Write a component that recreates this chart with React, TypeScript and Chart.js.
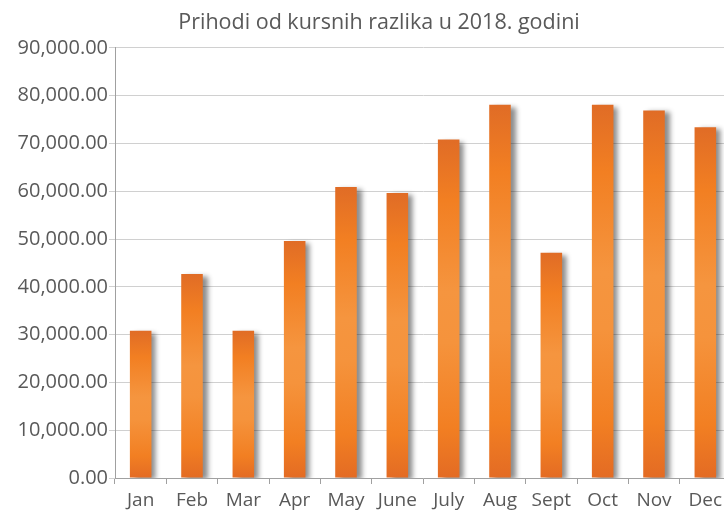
import React, { useEffect, useRef } from 'react';
import { Chart, registerables } from 'chart.js';

Chart.register(...registerables);

const chartTitle = 'Prihodi od kursnih razlika u 2018. godini';
const categories = ['Jan', 'Feb', 'Mar', 'Apr', 'May', 'June', 'July', 'Aug', 'Sept', 'Oct', 'Nov', 'Dec'];
const values = [30800, 42700, 30800, 49600, 60900, 59600, 70800, 78100, 47100, 78100, 76900, 73400];
const yMin = 0;
const yMax = 90000;
const yStep = 10000;

const FONT = "'Open Sans', sans-serif";
const TEXT = '#595959';

const shadowPlugin = {
  id: 'barShadow',
  beforeDatasetsDraw(chart: any) {
    const c = chart.ctx;
    c.save();
    c.shadowColor = 'rgba(0,0,0,0.45)';
    c.shadowBlur = 5;
    c.shadowOffsetX = 5;
    c.shadowOffsetY = 2;
  },
  afterDatasetsDraw(chart: any) {
    chart.ctx.restore();
  },
};

export default function App() {
  const ref = useRef<HTMLCanvasElement | null>(null);

  useEffect(() => {
    if (!ref.current) return;
    const chart = new Chart(ref.current, {
      type: 'bar',
      data: {
        labels: categories,
        datasets: [
          {
            data: values,
            borderWidth: 0,
            barPercentage: 0.42,
            categoryPercentage: 1,
            yAxisID: 'y',
            backgroundColor: (ctx: any) => {
              const ch = ctx.chart;
              if (!ch.chartArea || ctx.type !== 'data' || !ch.scales.y) return '#f28227';
              const y = ch.scales.y;
              const top = y.getPixelForValue(ctx.raw as number);
              const bottom = y.getPixelForValue(0);
              if (!isFinite(top) || !isFinite(bottom) || bottom - top < 1) return '#f28227';
              const g = ch.ctx.createLinearGradient(0, top, 0, bottom);
              g.addColorStop(0, '#e06c26');
              g.addColorStop(0.18, '#f27f22');
              g.addColorStop(0.45, '#f5953f');
              g.addColorStop(0.6, '#f5933c');
              g.addColorStop(0.85, '#f27f22');
              g.addColorStop(1, '#e36b24');
              return g;
            },
          },
        ],
      },
      options: {
        responsive: false,
        animation: false,
        layout: { padding: { left: 0, right: 0, top: 0, bottom: 0 } },
        plugins: {
          legend: { display: false },
          tooltip: { enabled: false },
          title: {
            display: true,
            text: chartTitle,
            color: TEXT,
            font: { family: FONT, size: 21.5, weight: 'normal', lineHeight: 1.2 },
            padding: { top: 10, bottom: 12 },
          },
        },
        scales: {
          x: {
            grid: {
              display: true,
              drawOnChartArea: false,
              drawTicks: true,
              tickLength: 6,
              color: '#a0a0a0',
              offset: true,
            },
            border: { display: true, color: '#a0a0a0', width: 1 },
            ticks: {
              color: TEXT,
              font: { family: FONT, size: 19 },
              padding: 5,
              maxRotation: 0,
              autoSkip: false,
            },
            afterFit: (s: any) => {
              s.height = 34;
            },
          },
          y: {
            min: yMin,
            max: yMax,
            grid: {
              color: '#d0d0d0',
              drawTicks: true,
              tickLength: 6,
              lineWidth: 1,
            },
            border: { display: true, color: '#a0a0a0', width: 1 },
            ticks: {
              stepSize: yStep,
              color: TEXT,
              font: { family: FONT, size: 20 },
              padding: 1,
              callback: (v: any) =>
                Number(v).toLocaleString('en-US', { minimumFractionDigits: 2, maximumFractionDigits: 2 }),
            },
            afterFit: (s: any) => {
              s.width = 115;
            },
          },
          spacer: {
            type: 'linear',
            position: 'right',
            display: true,
            min: yMin,
            max: yMax,
            grid: { display: false, drawOnChartArea: false, drawTicks: false },
            border: { display: false },
            ticks: { display: false },
            afterFit: (s: any) => {
              s.width = 27;
            },
          },
        },
      },
      plugins: [shadowPlugin],
    } as any);
    return () => chart.destroy();
  }, []);

  return (
    <div
      style={{
        position: 'fixed',
        left: 0,
        top: 0,
        width: 724,
        height: 512,
        overflow: 'hidden',
        background: '#ffffff',
      }}
    >
      <canvas ref={ref} width={758} height={512} style={{ display: 'block', width: 758, height: 512 }} />
    </div>
  );
}
